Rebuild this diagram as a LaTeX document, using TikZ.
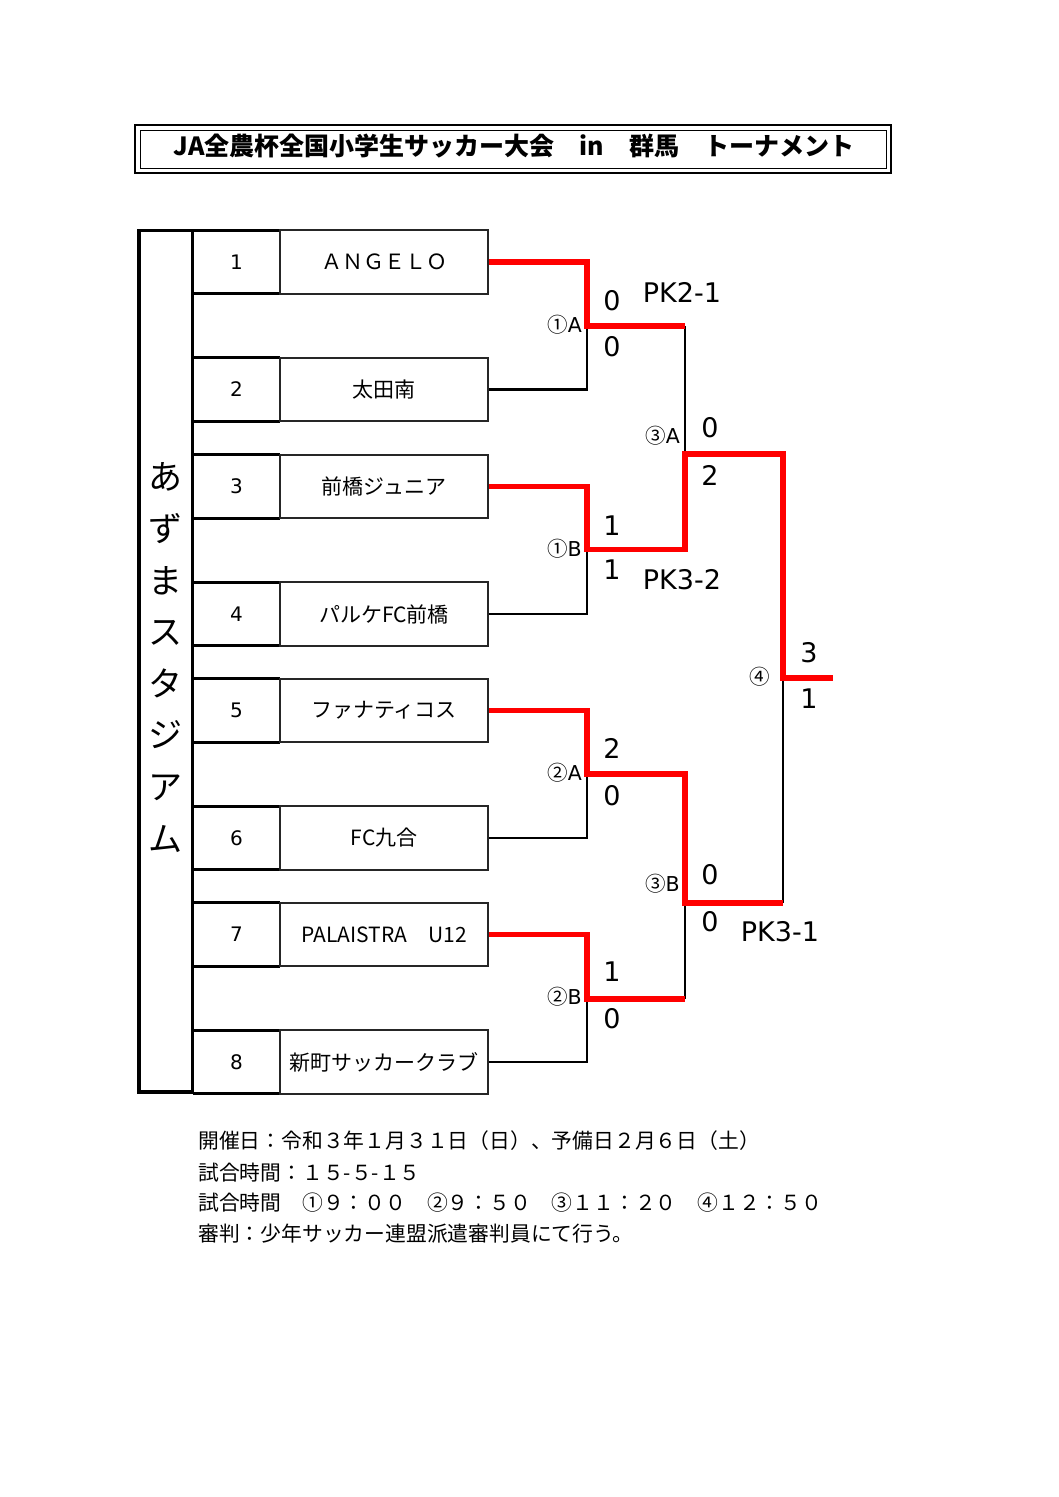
\documentclass[tikz,border=0pt]{standalone}
\usepackage{fontspec}
\newfontfamily\jp{Noto Sans CJK JP}
\newfontfamily\dv{DejaVu Sans}
\definecolor{bred}{RGB}{255,0,0}
\begin{document}
\begin{tikzpicture}[x=1pt,y=-1pt,
  numcell/.style={minimum width=87pt, minimum height=63.5pt, inner sep=0pt, font=\dv\fontsize{20}{20}\selectfont},
  namecell/.style={draw=black!85, line width=1.8pt, minimum width=208pt, minimum height=63.5pt, inner sep=0pt, font=\jp\fontsize{21}{22}\selectfont},
  thickrule/.style={line width=3pt},
  win/.style={draw=bred, line width=5.5pt, line join=miter},
  lose/.style={draw=black, line width=2.2pt},
  score/.style={inner sep=0pt, font=\dv\fontsize{27}{28}\selectfont},
  mlabel/.style={inner sep=0pt, font=\dv\fontsize{20.5}{21}\selectfont},
  foot/.style={anchor=west, inner sep=0pt, font=\jp\fontsize{20.8}{22}\selectfont}
]
\useasboundingbox (0,0) rectangle (1058,1497);
\fill[white] (0,0) rectangle (1058,1497);

% title
\draw[line width=2.5pt] (135,125) rectangle (891,173);
\draw[line width=1pt] (140,130) rectangle (886,168);
\node[inner sep=0pt, font=\jp\bfseries\fontsize{25}{26}\selectfont] (title) at (514,146) {JA全農杯全国小学生サッカー大会　in　群馬　トーナメント};

% venue box
\draw[line width=3.8pt] (139,230.5) rectangle (192.5,1092);
\node[inner sep=0pt, align=center, font=\jp\fontsize{34}{51.6}\selectfont] (venue) at (165.5,657.5) {あ\\ず\\ま\\ス\\タ\\ジ\\ア\\ム};

% rows
\foreach \i/\y/\t in {1/262/ＡＮＧＥＬＯ, 2/389.5/太田南, 3/486.5/前橋ジュニア, 4/614/パルケFC前橋, 5/710.5/ファナティコス, 6/838/FC九合, 7/934.5/PALAISTRA　U12, 8/1062/新町サッカークラブ}{
  \node[numcell] (n\i) at (236.5,\y) {\i};
  \draw[thickrule] (n\i.north west) -- (n\i.north east);
  \draw[thickrule] (n\i.south west) -- (n\i.south east);
  \node[namecell] (t\i) at (384,\y) {\t};
}

% bracket points
\coordinate (m1a) at (587,326);
\coordinate (m1b) at (587,549.5);
\coordinate (m2a) at (587,774);
\coordinate (m2b) at (587,999);
\coordinate (m3a) at (685,454);
\coordinate (m3b) at (685,903);
\coordinate (m4) at (783,678);
\coordinate (fin) at (833,678);

% losing lines
\draw[lose] (t2.east) -| (m1a);
\draw[lose] (t4.east) -| (m1b);
\draw[lose] (t6.east) -| (m2a);
\draw[lose] (t8.east) -| (m2b);
\draw[lose] (m1a -| m3a) -- (m3a);
\draw[lose] (m2b -| m3b) -- (m3b);
\draw[lose] (m3b -| m4) -- (m4);

% winning lines
\draw[win] (t1.east) -| (m1a) -- (m1a -| m3a);
\draw[win] (t3.east) -| (m1b) -- (m1b -| m3a) -- (m3a) -- (m3a -| m4) -- (m4) -- (fin);
\draw[win] (t5.east) -| (m2a) -- (m2a -| m3b) -- (m3b) -- (m3b -| m4);
\draw[win] (t7.east) -| (m2b) -- (m2b -| m3b);

% match labels
\node[mlabel, anchor=east] (l1a) at (582,325) {{\jp ①}A};
\node[mlabel, anchor=east] (l1b) at (582,549) {{\jp ①}B};
\node[mlabel, anchor=east] (l2a) at (582,773) {{\jp ②}A};
\node[mlabel, anchor=east] (l2b) at (582,997) {{\jp ②}B};
\node[mlabel, anchor=east] (l3a) at (680,436) {{\jp ③}A};
\node[mlabel, anchor=east] (l3b) at (680,884) {{\jp ③}B};
\node[mlabel] (l4) at (760,677) {{\jp ④}};

% scores
\node[score] (s1) at (612,301) {0};
\node[score] (s2) at (612,347) {0};
\node[score] (pk1) at (682,292) {PK2-1};
\node[score] (s3) at (612,526) {1};
\node[score] (s4) at (612,570) {1};
\node[score] (pk2) at (682,580) {PK3-2};
\node[score] (s5) at (612,748) {2};
\node[score] (s6) at (612,796) {0};
\node[score] (s7) at (612,972) {1};
\node[score] (s8) at (612,1019) {0};
\node[score] (s9) at (710,428) {0};
\node[score] (s10) at (710,475) {2};
\node[score] (s11) at (710,875) {0};
\node[score] (s12) at (710,922) {0};
\node[score] (pk3) at (780,932) {PK3-1};
\node[score] (s13) at (809,653) {3};
\node[score] (s14) at (809,699) {1};

% footer
\node[foot] (f1) at (198,1141) {開催日：令和３年１月３１日（日）、予備日２月６日（土）};
\node[foot] (f2) at (198,1173) {試合時間：１５-５-１５};
\node[foot] (f3) at (198,1203) {試合時間　①９：００　②９：５０　③１１：２０　④１２：５０};
\node[foot] (f4) at (198,1234) {審判：少年サッカー連盟派遣審判員にて行う。};
\end{tikzpicture}
\end{document}
